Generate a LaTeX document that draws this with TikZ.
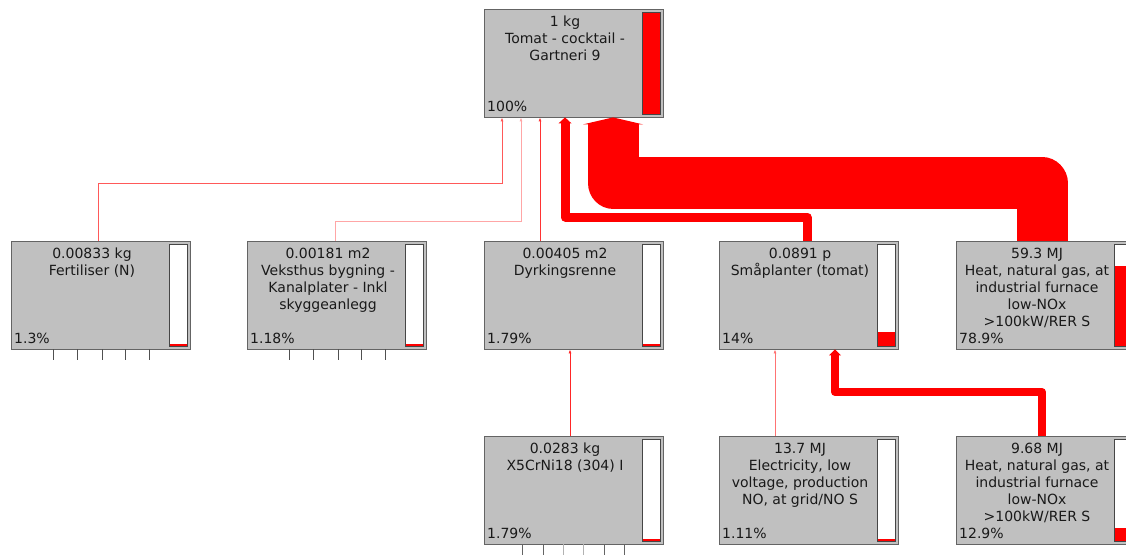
\documentclass[tikz,border=0pt]{standalone}
\usepackage{fontspec}
\setmainfont{DejaVu Sans}
\usetikzlibrary{arrows.meta}
\definecolor{boxgray}{RGB}{192,192,192}
\definecolor{edgegray}{RGB}{100,100,100}
\definecolor{bargray}{RGB}{70,70,70}
\definecolor{txtgray}{RGB}{25,25,25}
\tikzset{
  box/.style={draw=edgegray, fill=boxgray, anchor=north west, minimum width=179pt, minimum height=108pt, inner sep=0pt},
  lbl/.style={anchor=north, align=center, inner sep=0pt, text=txtgray, font=\fontsize{14}{17}\selectfont},
  pct/.style={anchor=base west, inner sep=0pt, text=txtgray, font=\fontsize{14}{17}\selectfont},
  lnk/.style={line width=1pt, -{Latex[length=4pt,width=3pt]}},
  flw/.style={red, line join=round},
  tick/.style={line width=1pt, edgegray!80!black}
}
\begin{document}
\begin{tikzpicture}[x=1pt,y=1pt]
\useasboundingbox (0,0) rectangle (1126,-556);
\clip (0,0) rectangle (1126,-556);
% boxes
\node[box] (1) at (484,-9) {};
\node[box] (2) at (11,-241) {};
\node[box] (3) at (247,-241) {};
\node[box] (4) at (484,-241) {};
\node[box] (5) at (719,-241) {};
\node[box] (6) at (956,-241) {};
\node[box] (7) at (484,-436) {};
\node[box] (8) at (719,-436) {};
\node[box] (9) at (956,-436) {};
% texts
\node[lbl] (t1) at ([shift={(81pt,-7pt)}]1.north west) {1 kg\\Tomat - cocktail -\\Gartneri 9};
\node[lbl] (t2) at ([shift={(81pt,-7pt)}]2.north west) {0.00833 kg\\Fertiliser (N)};
\node[lbl] (t3) at ([shift={(81pt,-7pt)}]3.north west) {0.00181 m2\\Veksthus bygning -\\Kanalplater - Inkl\\skyggeanlegg};
\node[lbl] (t4) at ([shift={(81pt,-7pt)}]4.north west) {0.00405 m2\\Dyrkingsrenne};
\node[lbl] (t5) at ([shift={(81pt,-7pt)}]5.north west) {0.0891 p\\Småplanter (tomat)};
\node[lbl] (t6) at ([shift={(81pt,-7pt)}]6.north west) {59.3 MJ\\Heat, natural gas, at\\industrial furnace\\low-NOx\\>100kW/RER S};
\node[lbl] (t7) at ([shift={(81pt,-7pt)}]7.north west) {0.0283 kg\\X5CrNi18 (304) I};
\node[lbl] (t8) at ([shift={(81pt,-7pt)}]8.north west) {13.7 MJ\\Electricity, low\\voltage, production\\NO, at grid/NO S};
\node[lbl] (t9) at ([shift={(81pt,-7pt)}]9.north west) {9.68 MJ\\Heat, natural gas, at\\industrial furnace\\low-NOx\\>100kW/RER S};
% bars and percentages
\foreach \n/\f/\p in {1/1/100\%, 2/0.013/1.3\%, 3/0.0118/1.18\%, 4/0.0179/1.79\%, 5/0.14/14\%,
    6/0.789/78.9\%, 7/0.0179/1.79\%, 8/0.0111/1.11\%, 9/0.129/12.9\%} {
  \draw[bargray, fill=white, line width=0.8pt] ([shift={(-21pt,-3pt)}]\n.north east) rectangle ([shift={(-3pt,3pt)}]\n.south east);
  \fill[red] ([shift={(-20.5pt,3.5pt)}]\n.south east) rectangle ([shift={(-3.5pt,{3.5pt+max(\f*101,1.6)*1pt})}]\n.south east);
  \node[pct] (p\n) at ([shift={(3pt,5.5pt)}]\n.south west) {\p};
}
% flows
\draw[flw, line width=51pt, -{Triangle[length=7pt,width=60pt,line width=0pt]}] ([xshift=86pt]6.north west) -- ++(0,58) -| ([xshift=129pt]1.south west);
\draw[flw, line width=9pt, -{Triangle[length=6pt,width=13pt,line width=0pt]}] ([xshift=88pt]5.north west) -- ++(0,24) -| ([xshift=81pt]1.south west);
\draw[flw, line width=8pt, -{Triangle[length=6pt,width=12pt,line width=0pt]}] ([xshift=86pt]9.north west) -- ++(0,44) -| ([xshift=116pt]5.south west);
\draw[lnk, red!65] ([xshift=87pt]2.north west) -- ++(0,57) -| ([xshift=18pt]1.south west);
\draw[lnk, red!35] ([xshift=88pt]3.north west) -- ++(0,20) -| ([xshift=37pt]1.south west);
\draw[lnk, red!80] ([xshift=56pt]4.north west) -- ([xshift=56pt]1.south west);
\draw[lnk, red!85] ([xshift=86pt]7.north west) -- ([xshift=86pt]4.south west);
\draw[lnk, red!55] ([xshift=56pt]8.north west) -- ([xshift=56pt]5.south west);
% cut-off links below
\foreach \x in {42,66,91,114,138} {
  \draw[tick] ([xshift=\x pt]2.south west) -- ++(0,-11);
  \draw[tick] ([xshift=\x pt]3.south west) -- ++(0,-11);
}
\foreach \x/\c in {38/edgegray,59/edgegray,79/gray!60,99/gray!60,120/edgegray,140/edgegray}
  \draw[tick, \c] ([xshift=\x pt]7.south west) -- ++(0,-11);
\end{tikzpicture}
\end{document}
